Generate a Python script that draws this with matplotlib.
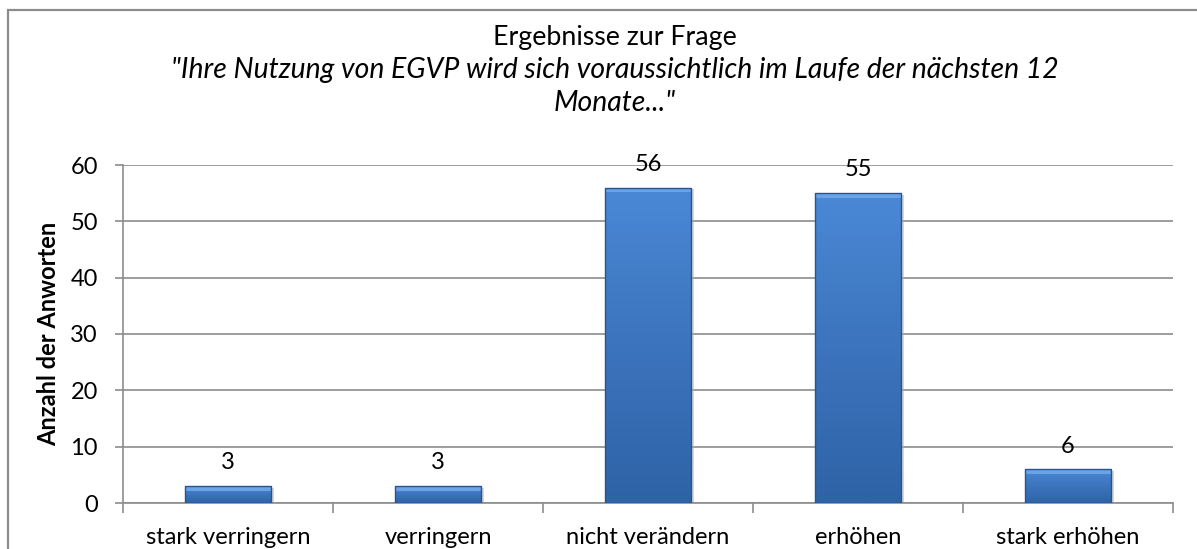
import numpy as np
import matplotlib
matplotlib.use("Agg")
import matplotlib.pyplot as plt
from matplotlib.patches import Rectangle
from matplotlib.colors import LinearSegmentedColormap

# Daten
kategorien = ["stark verringern", "verringern", "nicht verändern", "erhöhen", "stark erhöhen"]
antworten = [3, 3, 56, 55, 6]
y_ticks = [0, 10, 20, 30, 40, 50, 60]
titel1 = "Ergebnisse zur Frage"
titel2 = "\"Ihre Nutzung von EGVP wird sich voraussichtlich im Laufe der nächsten 12"
titel3 = "Monate...\""

plt.rcParams['font.family'] = ['Lato', 'DejaVu Sans']
grau = "#8c8c8c"

fig = plt.figure(figsize=(11.97, 5.49), dpi=100)
W, H = 1197, 549

# Rahmen um das Diagramm
fig.patches.append(Rectangle((8 / W, -0.1), 1.2, 1 - 10 / H + 0.1, transform=fig.transFigure,
                             fill=False, edgecolor=grau, linewidth=1.6))

ax = fig.add_axes([123 / W, 1 - 503 / H, (1173 - 123) / W, (503 - 165) / H])
x = np.arange(len(kategorien))
bars = ax.bar(x, antworten, width=0.41, color="#3f78c2", zorder=3)

# Farbverlauf + Kanten, damit die Balken etwas plastisch aussehen
cmap = LinearSegmentedColormap.from_list("blau", ["#2e63a6", "#3c74bd", "#4a88d6"])
grad = np.linspace(0, 1, 256).reshape(-1, 1)
for b in bars:
    bx, by, bw, bh = b.get_x(), b.get_y(), b.get_width(), b.get_height()
    b.set_facecolor("none")
    im = ax.imshow(grad, extent=(bx, bx + bw, by, by + bh), origin="lower", cmap=cmap,
                   aspect="auto", zorder=3)
    im.set_clip_path(b)
    # Schatten
    ax.add_patch(Rectangle((bx + 0.012, by - 0.25), bw, bh, facecolor="#b0b0b0", alpha=0.5,
                           edgecolor="none", zorder=2.5))
    # heller oberer Rand
    ax.add_patch(Rectangle((bx, by + bh - min(0.8, bh * 0.3)), bw, min(0.8, bh * 0.3),
                           facecolor="#6aa3e6", edgecolor="none", zorder=3.2))
    ax.add_patch(Rectangle((bx, by), bw, bh, fill=False, edgecolor="#25548f",
                           linewidth=1.0, zorder=3.5))
    ax.annotate(str(int(bh)), (bx + bw / 2, bh), xytext=(0, 12), textcoords="offset points",
                ha="center", va="baseline", fontsize=17, zorder=4)

ax.set_xlim(-0.5, len(kategorien) - 0.5)
ax.set_ylim(0, 60)
ax.set_yticks(y_ticks)
ax.set_xticks(x)
ax.set_xticklabels(kategorien)
ax.set_xticks(np.arange(-0.5, len(kategorien)), minor=True)
ax.tick_params(axis="x", which="major", length=0, pad=17, labelsize=17)
ax.tick_params(axis="x", which="minor", length=7, color=grau, width=1.2, direction="out")
ax.tick_params(axis="y", length=6, color=grau, width=1.2, pad=12, labelsize=17)
ax.grid(axis="y", color=grau, linewidth=1.2, zorder=0)
for s in ["top", "right"]:
    ax.spines[s].set_visible(False)
for s in ["left", "bottom"]:
    ax.spines[s].set_color(grau)
    ax.spines[s].set_linewidth(1.2)
ax.set_ylabel("Anzahl der Anworten", fontsize=17, fontweight="bold")
ax.yaxis.set_label_coords(-0.060, 0.5)

tx = 615 / W
fig.text(tx, 1 - 45 / H, titel1, ha="center", va="baseline", fontsize=19.3)
fig.text(tx, 1 - 78 / H, titel2, ha="center", va="baseline", fontsize=20.4, style="italic")
fig.text(tx, 1 - 111 / H, titel3, ha="center", va="baseline", fontsize=20.4, style="italic")

fig.savefig("out.png", dpi=100)
